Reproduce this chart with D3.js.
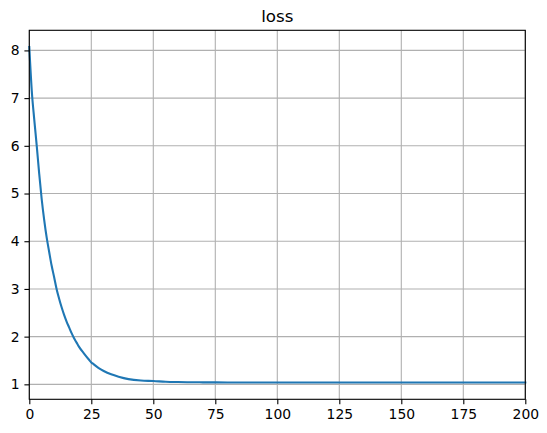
<!DOCTYPE html>
<html>
<head>
<meta charset="utf-8">
<script src="https://cdn.jsdelivr.net/npm/d3@7"></script>
<style>
  body { margin: 0; background: #fff; }
  text { font-family: "DejaVu Sans", sans-serif; }
</style>
</head>
<body>
<div id="chart"></div>
<script>
// data
var epochs = [0, 1, 2, 3, 4, 5, 6, 7, 8, 9, 10, 11, 12, 13, 14, 15, 16, 17, 18, 19, 20,
              22, 24, 25, 26, 28, 30, 33, 36, 40, 45, 50, 55, 60, 70, 80, 100, 125, 150, 175, 200]
var loss = [8.07, 7.15, 6.55, 6.0, 5.41, 4.88, 4.45, 4.08, 3.78, 3.49, 3.25, 3.0, 2.8, 2.62, 2.46, 2.32, 2.2, 2.08, 1.97, 1.88, 1.79,
            1.65, 1.52, 1.46, 1.42, 1.34, 1.28, 1.21, 1.16, 1.11, 1.08, 1.07, 1.055, 1.048, 1.042, 1.04, 1.039, 1.038, 1.038, 1.038, 1.038]
var xTicks = [0, 25, 50, 75, 100, 125, 150, 175, 200]
var yTicks = [1, 2, 3, 4, 5, 6, 7, 8]
var title = 'loss'

var data = epochs.map(function (e, i) { return { epoch: e, loss: loss[i] } })

var margin = { top: 30.3, right: 21.7, bottom: 33.7, left: 29.3 }
var W = 547, H = 433
var w = W - margin.left - margin.right
var h = H - margin.top - margin.bottom

// matplotlib-like 5% margins on y
var yMin = d3.min(loss), yMax = d3.max(loss)
var pad = (yMax - yMin) * 0.05

var xScale = d3.scaleLinear().domain([0, 200]).range([0, w])
var yScale = d3.scaleLinear().domain([yMin - pad, yMax + pad]).range([h, 0])

var svg = d3.select('#chart').append('svg')
    .attr('width', W)
    .attr('height', H)
  .append('g')
    .attr('transform', 'translate(' + margin.left + ',' + margin.top + ')')

// grid
svg.append('g')
    .selectAll('line')
    .data(xTicks)
    .enter()
  .append('line')
    .attr('x1', function (d) { return xScale(d) })
    .attr('x2', function (d) { return xScale(d) })
    .attr('y1', 0)
    .attr('y2', h)
    .attr('stroke', '#b0b0b0')
    .attr('stroke-width', 1.1)
svg.append('g')
    .selectAll('line')
    .data(yTicks)
    .enter()
  .append('line')
    .attr('x1', 0)
    .attr('x2', w)
    .attr('y1', function (d) { return yScale(d) })
    .attr('y2', function (d) { return yScale(d) })
    .attr('stroke', '#b0b0b0')
    .attr('stroke-width', 1.1)

// line
var line = d3.line()
    .x(function (d) { return xScale(d.epoch) })
    .y(function (d) { return yScale(d.loss) })
    .curve(d3.curveMonotoneX)

svg.append('path')
    .datum(data)
    .attr('d', line)
    .attr('fill', 'none')
    .attr('stroke', '#1f77b4')
    .attr('stroke-width', 2.1)
    .attr('stroke-linejoin', 'round')
    .attr('stroke-linecap', 'square')

// axes
var xAxis = d3.axisBottom(xScale)
    .tickValues(xTicks)
    .tickSize(4.9)
    .tickPadding(4.9)
    .tickSizeOuter(0)
var yAxis = d3.axisLeft(yScale)
    .tickValues(yTicks)
    .tickSize(4.9)
    .tickPadding(4.9)
    .tickSizeOuter(0)

var gx = svg.append('g')
    .attr('transform', 'translate(0,' + h + ')')
    .call(xAxis)
var gy = svg.append('g')
    .call(yAxis)

;[gx, gy].forEach(function (g) {
  g.select('.domain').remove()
  g.selectAll('line').attr('stroke', '#000').attr('stroke-width', 1.1)
  g.selectAll('text')
      .attr('fill', '#000')
      .style('font-size', '13.9px')
      .style('font-family', '"DejaVu Sans", sans-serif')
})

// frame
svg.append('rect')
    .attr('width', w)
    .attr('height', h)
    .attr('fill', 'none')
    .attr('stroke', '#000')
    .attr('stroke-width', 1.1)

// title
svg.append('text')
    .attr('x', w / 2)
    .attr('y', -8.3)
    .attr('text-anchor', 'middle')
    .style('font-size', '16.7px')
    .text(title)
</script>
</body>
</html>
